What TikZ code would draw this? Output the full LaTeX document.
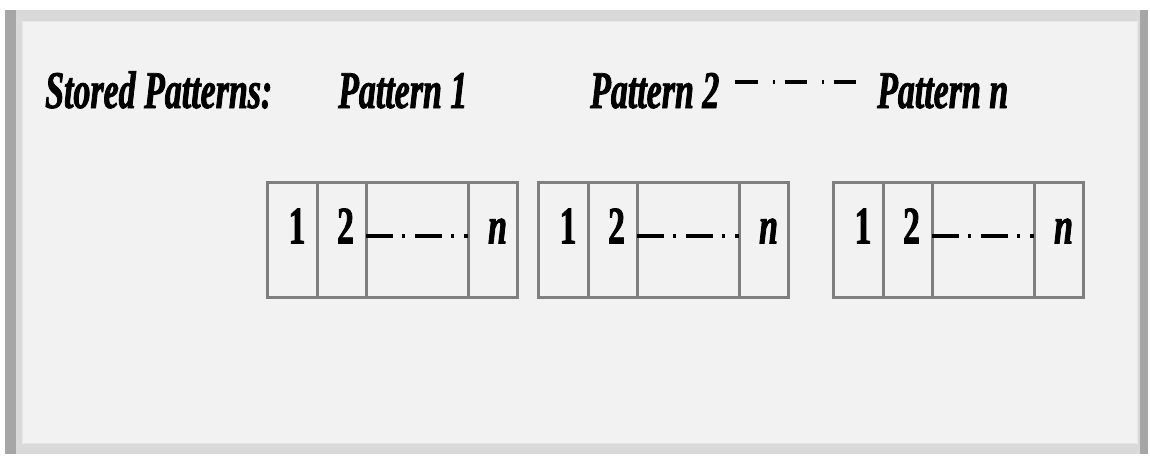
\documentclass[tikz,border=0pt]{standalone}
\usepackage{fontspec}
\setmainfont{Liberation Serif}[FakeStretch=0.64,
  BoldFont={Liberation Serif Bold}, BoldItalicFont={Liberation Serif Bold Italic},
  BoldFeatures={FakeBold=1.5}, BoldItalicFeatures={FakeBold=1.5}]
\usepackage{tikz}
\usetikzlibrary{positioning,calc}
\definecolor{panelgray}{HTML}{F2F2F2}
\definecolor{framegray}{HTML}{D9D9D9}
\definecolor{edgegray}{HTML}{A6A6A6}
\definecolor{cellgray}{HTML}{7F7F7F}
\tikzset{
  headtext/.style={font=\fontsize{53}{53}\selectfont\bfseries\itshape, inner sep=0pt, anchor=base west},
  cellbox/.style={draw=cellgray, line width=3pt, minimum height=115pt, inner sep=0pt, outer sep=0pt},
  celltext/.style={font=\fontsize{53}{53}\selectfont\bfseries, inner sep=0pt, anchor=base},
  dashdot/.style={line width=4pt, dash pattern=on 27pt off 9pt on 3pt off 10pt},
}

\begin{document}
\begin{tikzpicture}[x=1pt, y=-1pt]
  \useasboundingbox (0,0) rectangle (1150,455);
  % frame and panel
  \fill[white] (0,0) rectangle (1150,455);
  \fill[framegray] (5,10) rectangle (1148,454);
  \fill[edgegray] (5,10) rectangle (16,454);
  \fill[edgegray] (1140,10) rectangle (1148,454);
  \fill[panelgray, draw=framegray!60!white, line width=1pt] (22,21) rectangle (1137,443);
  % headings
  \node[headtext] (stored) at (45,108) {Stored Patterns:};
  \node[headtext] (pat1) at (338,108) {Pattern 1};
  \node[headtext] (pat2) at (590,108) {Pattern 2};
  \node[headtext] (patn) at (877,108) {Pattern \textit{n}};
  \draw[line width=4pt, dash pattern=on 22pt off 15pt on 2pt off 10pt]
    ([xshift=16pt,yshift=26pt]pat2.base east) -- ([xshift=-14pt,yshift=26pt]patn.base west);
  % pattern boxes
  \foreach \b/\x in {1/267,2/538,3/833}{
    \node[cellbox, minimum width=50pt, anchor=north west] (b\b-1) at (\x,182) {};
    \node[cellbox, minimum width=49pt, right=0pt of b\b-1] (b\b-2) {};
    \node[cellbox, minimum width=102pt, right=0pt of b\b-2] (b\b-3) {};
    \node[cellbox, minimum width=49pt, right=0pt of b\b-3] (b\b-4) {};
    \node[celltext] (t\b-1) at ([xshift=5pt,yshift=-4pt]b\b-1.center) {1};
    \node[celltext] (t\b-2) at ([xshift=4pt,yshift=-4pt]b\b-2.center) {2};
    \node[celltext] (t\b-4) at ([xshift=5pt,yshift=-4pt]b\b-4.center) {\textit{n}};
    \draw[dashdot] ([yshift=3.5pt]b\b-3.west) -- ([yshift=3.5pt]b\b-3.east);
  }
\end{tikzpicture}
\end{document}
